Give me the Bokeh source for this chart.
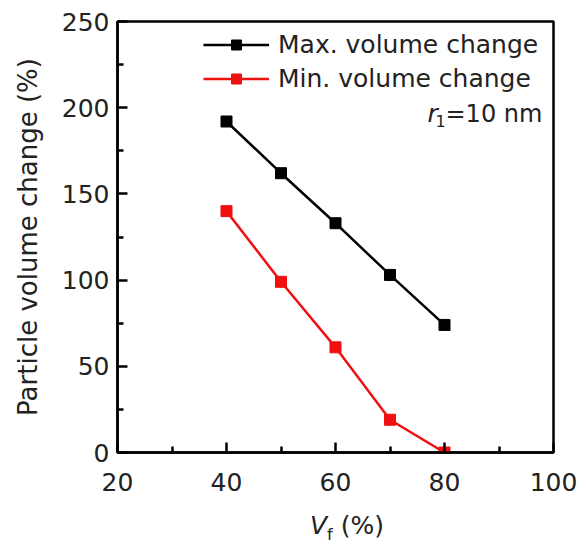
from bokeh.plotting import figure
from bokeh.models import Range1d, FixedTicker, Legend, LegendItem, Label, Div
from bokeh.layouts import column
from bokeh.embed import file_html
from bokeh.resources import INLINE

# ---- data ----
vf = [40, 50, 60, 70, 80]
max_change = [192, 162, 133, 103, 74]
min_change = [140, 99, 61, 19, 0]
series_names = ["Max. volume change", "Min. volume change"]
x_ticks = [20, 40, 60, 80, 100]
y_ticks = [0, 50, 100, 150, 200, 250]
x_minor = [(a + b) / 2 for a, b in zip(x_ticks[:-1], x_ticks[1:])]
y_minor = [(a + b) / 2 for a, b in zip(y_ticks[:-1], y_ticks[1:])]

FONT = "DejaVu Sans"
TXT = "#222222"
FS = "25px"

p = figure(width=586, height=500, output_backend="svg", toolbar_location=None,
           x_range=Range1d(x_ticks[0], x_ticks[-1]), y_range=Range1d(y_ticks[0], y_ticks[-1]),
           min_border_left=117, min_border_right=33, min_border_top=21, min_border_bottom=48)
p.grid.visible = False
p.outline_line_color = "black"
p.outline_line_width = 2.5
p.outline_line_alpha = 1.0

p.xaxis.ticker = FixedTicker(ticks=x_ticks, minor_ticks=x_minor)
p.yaxis.ticker = FixedTicker(ticks=y_ticks, minor_ticks=y_minor)
for ax in (p.xaxis, p.yaxis):
    ax.axis_line_width = 2.5
    ax.major_tick_line_width = 2.5
    ax.minor_tick_line_width = 2.5
    ax.major_tick_in = 10
    ax.major_tick_out = 0
    ax.minor_tick_in = 6
    ax.minor_tick_out = 0
    ax.major_label_text_font = FONT
    ax.major_label_text_font_size = FS
    ax.major_label_text_color = TXT
p.xaxis.major_label_standoff = 20
p.yaxis.major_label_standoff = 8

p.yaxis.axis_label = "Particle volume change (%)"
p.yaxis.axis_label_text_font = FONT
p.yaxis.axis_label_text_font_size = "26px"
p.yaxis.axis_label_text_font_style = "normal"
p.yaxis.axis_label_text_color = TXT
p.yaxis.axis_label_standoff = 16

l1 = p.line(vf, max_change, line_color="black", line_width=2.5)
s1 = p.scatter(vf, max_change, marker="square", size=11, color="black")
l2 = p.line(vf, min_change, line_color="#f01010", line_width=2.5)
s2 = p.scatter(vf, min_change, marker="square", size=11, color="#f01010")

legend = Legend(items=[LegendItem(label=series_names[0], renderers=[l1, s1]),
                       LegendItem(label=series_names[1], renderers=[l2, s2])],
                location=(86, 359), glyph_width=66, glyph_height=25, label_height=25,
                label_standoff=9, padding=0, spacing=5, margin=0,
                border_line_color=None, background_fill_alpha=0,
                label_text_font=FONT, label_text_font_size=FS, label_text_color=TXT)
p.add_layout(legend)

def lab(x, y, text, size=FS, style="normal"):
    p.add_layout(Label(x=x, y=y, x_units="screen", y_units="screen", text=text,
                       text_font=FONT, text_font_size=size, text_font_style=style,
                       text_color=TXT, text_baseline="alphabetic", text_align="left"))

# r1 = 10 nm annotation
lab(310, 339, "r", style="italic")
lab(318, 332, "1", size="16px")
lab(328, 339, "=10 nm", size="24px")

# x axis label V_f (%) drawn below the figure
xlabel_html = (
    '<div style="position:relative; width:586px; height:44px; overflow:visible;">'
    '<span style="position:absolute; left:305px; top:8px; white-space:nowrap; '
    "font-family:'DejaVu Sans'; font-size:25px; line-height:25px; color:#222222;\">"
    '<i>V</i><span style="font-size:16px; line-height:16px; vertical-align:-6px;">f</span> (%)'
    '</span></div>'
)
div = Div(text=xlabel_html, width=586, height=44)

layout = column(p, div)
open("out.html", "w").write(file_html(layout, INLINE))
